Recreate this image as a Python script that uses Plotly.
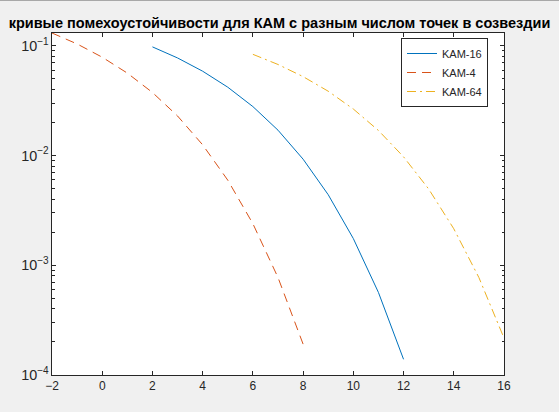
import plotly.graph_objects as go

# Eb/N0, dB
snr_16 = [2, 3, 4, 5, 6, 7, 8, 9, 10, 11, 12]
snr_4 = [-2, -1, 0, 1, 2, 3, 4, 5, 6, 7, 8]
snr_64 = [6, 7, 8, 9, 10, 11, 12, 13, 14, 15, 16]

# error probability
ber_16 = [0.0976, 0.0774, 0.0586, 0.0419, 0.0279, 0.0170, 0.00925, 0.00439, 0.00175, 0.000565, 0.000139]
ber_4 = [0.1306, 0.1038, 0.0786, 0.0563, 0.0375, 0.0229, 0.0125, 0.00596, 0.00239, 0.000773, 0.000191]
ber_64 = [0.0835, 0.0675, 0.0523, 0.0385, 0.0265, 0.0169, 0.00972, 0.00495, 0.00215, 0.000773, 0.000217]

x_ticks = [-2, 0, 2, 4, 6, 8, 10, 12, 14, 16]

ink = "#262626"
font_family = "Liberation Sans, Arial, sans-serif"
W, H = 559, 412
ml, mr, mt, mb = 52, 55, 33, 37
pw, ph = W - ml - mr, H - mt - mb

fig = go.Figure()
fig.add_scatter(x=snr_16, y=ber_16, mode="lines", name="KAM-16",
                line=dict(color="#0072BD", width=1))
fig.add_scatter(x=snr_4, y=ber_4, mode="lines", name="KAM-4",
                line=dict(color="#D95319", width=1, dash="9px,6px"))
fig.add_scatter(x=snr_64, y=ber_64, mode="lines", name="KAM-64",
                line=dict(color="#EDB120", width=1, dash="9px,4px,2px,4px"))

fig.update_layout(
    width=W,
    height=H,
    margin=dict(l=ml, r=mr, t=mt, b=mb, autoexpand=False),
    paper_bgcolor="#f0f0f0",
    plot_bgcolor="white",
    font=dict(family=font_family, size=12, color=ink),
    title=dict(
        text="<b>кривые помехоустойчивости для КАМ с разным числом точек в созвездии</b>",
        x=0.5, xref="container", xanchor="center",
        y=1 - 22.7 / H, yref="container", yanchor="middle",
        font=dict(family=font_family, size=14.5, color="black"),
    ),
    legend=dict(
        x=(493 - ml) / pw - 5 / pw, y=(H - mb - 38) / ph,
        xanchor="right", yanchor="top",
        bgcolor="white", bordercolor=ink, borderwidth=1,
        font=dict(size=11, color=ink),
    ),
    # thin window frame line along the top edge
    shapes=[dict(type="rect", xref="paper", yref="paper",
                 x0=-ml / pw, x1=(W - ml) / pw,
                 y0=(H - mb - 1) / ph, y1=(H - mb) / ph,
                 fillcolor="#a8a8a8", line_width=0, layer="above")],
)

fig.update_xaxes(
    range=[-2, 16], tickvals=x_ticks, automargin=False,
    showgrid=False, zeroline=False,
    showline=True, linecolor=ink, linewidth=1, mirror="allticks",
    ticks="inside", ticklen=4, tickcolor=ink,
)
fig.update_yaxes(
    type="log", range=[-4, -0.884], dtick=1, exponentformat="power",
    automargin=False, tickfont=dict(size=11.5),
    showgrid=False, zeroline=False,
    showline=True, linecolor=ink, linewidth=1, mirror="allticks",
    ticks="inside", ticklen=4, tickcolor=ink,
    minor=dict(ticks="inside", ticklen=2.5, tickcolor=ink, dtick="D1", showgrid=False),
)

# the page's default body margin would shift the figure by 8px
fig.write_html("out.html", config={"displayModeBar": False},
               post_script="document.body.style.margin='0px';")
